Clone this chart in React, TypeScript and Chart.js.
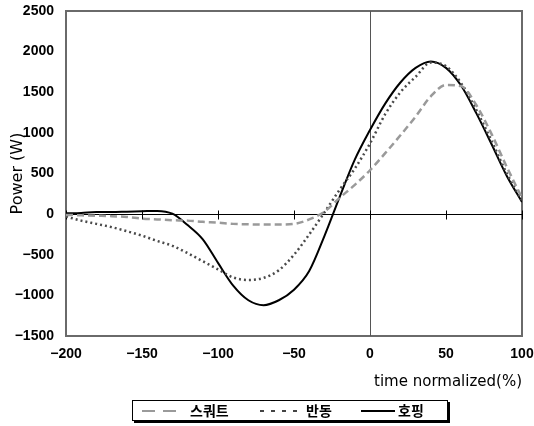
import React, { useEffect, useRef } from 'react';
import { Chart, registerables } from 'chart.js';

Chart.register(...registerables);

const timePoints = [-200, -190, -180, -170, -160, -150, -140, -130, -120, -110, -100, -90, -80, -70, -60, -50, -40, -30, -20, -10, 0, 10, 20, 30, 40, 50, 60, 70, 80, 90, 100];
const squatPower = [-10, -15, -20, -25, -35, -55, -65, -75, -80, -95, -105, -120, -125, -128, -128, -120, -65, 30, 200, 360, 540, 750, 970, 1200, 1450, 1590, 1575, 1340, 985, 580, 200];
const countermovementPower = [-30, -80, -120, -160, -210, -265, -330, -390, -480, -580, -680, -780, -810, -785, -690, -500, -250, 20, 300, 560, 870, 1230, 1500, 1690, 1865, 1820, 1610, 1280, 900, 500, 170];
const hoppingPower = [10, 15, 25, 25, 30, 35, 40, 5, -135, -310, -600, -880, -1060, -1120, -1060, -930, -700, -270, 210, 670, 1035, 1360, 1620, 1800, 1880, 1800, 1580, 1240, 860, 470, 150];
const seriesLabels = ['스쿼트', '반동', '호핑'];
const xTickValues = [-200, -150, -100, -50, 0, 50, 100];
const yTickValues = [-1500, -1000, -500, 0, 500, 1000, 1500, 2000, 2500];
const xTitle = 'time normalized(%)';
const yTitle = 'Power (W)';

const toPoints = (vals: number[]) => timePoints.map((x, i) => ({ x, y: vals[i] }));
const fmt = (v: number) => (v < 0 ? '\u2212' + String(-v) : String(v));

const framePlugin = {
  id: 'frameAndZero',
  beforeDatasetsDraw(chart: any) {
    const { ctx, chartArea: a, scales } = chart;
    const xs = scales.x;
    const ys = scales.y;
    const line = (x1: number, y1: number, x2: number, y2: number) => {
      ctx.beginPath();
      ctx.moveTo(x1, y1);
      ctx.lineTo(x2, y2);
      ctx.stroke();
    };
    ctx.save();
    ctx.strokeStyle = '#6a6a6a';
    ctx.lineWidth = 2;
    ctx.strokeRect(a.left, a.top, a.right - a.left, a.bottom - a.top);
    const y0 = Math.round(ys.getPixelForValue(0)) + 0.5;
    const x0 = Math.round(xs.getPixelForValue(0)) + 0.5;
    ctx.lineWidth = 1;
    ctx.strokeStyle = '#555';
    line(x0, a.top, x0, a.bottom);
    ctx.strokeStyle = '#000';
    line(a.left, y0, a.right, y0);
    xTickValues.forEach((v) => {
      const px = Math.round(xs.getPixelForValue(v)) + 0.5;
      line(px, y0 - 4, px, y0 + 5);
    });
    ctx.restore();
  },
};

const legendPlugin = {
  id: 'customLegend',
  afterDraw(chart: any) {
    const { ctx } = chart;
    const bx = 132, by = 400, bw = 316, bh = 21;
    ctx.save();
    ctx.fillStyle = '#000';
    ctx.fillRect(bx + 2, by + 2, bw, bh);
    ctx.fillStyle = '#fff';
    ctx.fillRect(bx, by, bw, bh);
    ctx.strokeStyle = '#000';
    ctx.lineWidth = 1;
    ctx.strokeRect(bx + 0.5, by + 0.5, bw - 1, bh - 1);
    const cy = by + bh / 2 + 0.5;
    const items = [
      { x1: 142, x2: 176, tx: 190, color: '#9a9a9a', dash: [13, 8], width: 2 },
      { x1: 260, x2: 303, tx: 306, color: '#444', dash: [4, 7], width: 2 },
      { x1: 361, x2: 395, tx: 398, color: '#000', dash: [], width: 2 },
    ];
    items.forEach((it, i) => {
      ctx.strokeStyle = it.color;
      ctx.lineWidth = it.width;
      ctx.setLineDash(it.dash);
      ctx.beginPath();
      ctx.moveTo(it.x1, cy);
      ctx.lineTo(it.x2, cy);
      ctx.stroke();
      ctx.setLineDash([]);
      ctx.fillStyle = '#000';
      ctx.font = 'bold 14px "Noto Sans CJK KR"';
      ctx.textBaseline = 'middle';
      ctx.textAlign = 'left';
      ctx.fillText(seriesLabels[i], it.tx, cy);
    });
    ctx.restore();
  },
};

export default function App() {
  const canvasRef = useRef<HTMLCanvasElement | null>(null);

  useEffect(() => {
    if (!canvasRef.current) return;
    const tickFont = { family: '"Liberation Sans", Arial, sans-serif', size: 14, weight: 'bold' as const };
    const titleFamily = '"DejaVu Sans", sans-serif';
    const chart = new Chart(canvasRef.current, {
      type: 'line',
      data: {
        datasets: [
          {
            label: seriesLabels[0],
            data: toPoints(squatPower),
            borderColor: '#9a9a9a',
            borderDash: [7, 4],
            borderWidth: 2.5,
            pointRadius: 0,
            cubicInterpolationMode: 'monotone',
          },
          {
            label: seriesLabels[1],
            data: toPoints(countermovementPower),
            borderColor: '#4a4a4a',
            borderDash: [2, 3],
            borderWidth: 2.5,
            pointRadius: 0,
            cubicInterpolationMode: 'monotone',
          },
          {
            label: seriesLabels[2],
            data: toPoints(hoppingPower),
            borderColor: '#000',
            borderWidth: 2,
            pointRadius: 0,
            cubicInterpolationMode: 'monotone',
          },
        ],
      },
      options: {
        animation: false,
        responsive: false,
        maintainAspectRatio: false,
        layout: { padding: { top: 11, right: 12, bottom: 0, left: 0 } },
        plugins: {
          legend: { display: false },
          tooltip: { enabled: false },
        },
        scales: {
          x: {
            type: 'linear',
            min: -200,
            max: 100,
            afterBuildTicks: (scale: any) => {
              scale.ticks = xTickValues.map((v) => ({ value: v }));
            },
            afterFit: (scale: any) => {
              scale.height = 90;
              scale.paddingLeft = 0;
              scale.paddingRight = 0;
            },
            ticks: { font: tickFont, color: '#000', padding: 10, maxRotation: 0, autoSkip: false, callback: (v: any) => fmt(Number(v)) },
            grid: { display: false, drawTicks: false },
            border: { display: false },
            title: {
              display: true,
              text: xTitle,
              align: 'end',
              color: '#000',
              font: { family: titleFamily, size: 15 },
              padding: { top: 0, bottom: 35 },
            },
          },
          y: {
            type: 'linear',
            min: -1500,
            max: 2500,
            afterBuildTicks: (scale: any) => {
              scale.ticks = yTickValues.map((v) => ({ value: v }));
            },
            afterFit: (scale: any) => {
              scale.width = 66;
              scale.paddingTop = 0;
              scale.paddingBottom = 0;
            },
            ticks: { font: tickFont, color: '#000', padding: 12, autoSkip: false, callback: (v: any) => fmt(Number(v)) },
            grid: { display: false, drawTicks: false },
            border: { display: false },
            title: {
              display: true,
              text: yTitle,
              color: '#000',
              font: { family: titleFamily, size: 16 },
              padding: { top: 8, bottom: 0 },
            },
          },
        },
      },
      plugins: [framePlugin, legendPlugin],
    });
    return () => chart.destroy();
  }, []);

  return (
    <div style={{ position: 'fixed', left: 0, top: 0, width: 534, height: 426, background: '#fff' }}>
      <canvas ref={canvasRef} width={534} height={426} style={{ display: 'block', width: 534, height: 426 }} />
    </div>
  );
}
